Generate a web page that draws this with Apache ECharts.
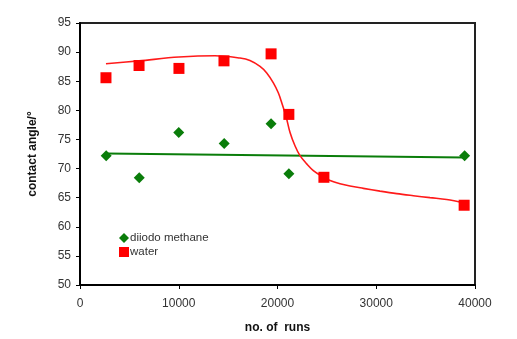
<!DOCTYPE html>
<html>
<head>
<meta charset="utf-8">
<script src="https://cdn.jsdelivr.net/npm/echarts@6/dist/echarts.min.js"></script>
<style>
html,body{margin:0;padding:0;background:#fff;}
#chart{width:517px;height:339px;}
</style>
</head>
<body>
<div id="chart"></div>
<script>
// Measured points
var diiodoRuns   = [2650, 6000, 10000, 14600, 19350, 21150, 38950];
var diiodoAngle  = [72.2, 68.4, 76.2, 74.3, 77.7, 69.1, 72.2];
var waterRuns    = [2630, 5980, 10020, 14580, 19350, 21150, 24700, 38900];
var waterAngle   = [85.6, 87.7, 87.2, 88.5, 89.7, 79.3, 68.5, 63.7];
// Trend line of diiodo methane
var diiodoTrendRuns  = [2650, 38950];
var diiodoTrendAngle = [72.6, 71.9];
// Fitted curve of water
var waterFitRuns  = [2630, 5980, 10020, 13670, 16200, 17210, 18230, 18910, 19580, 20080, 20430, 20860, 21270, 21770, 22280, 22960, 23630, 24480, 25320, 26330, 27340, 28690, 30380, 32070, 33750, 35440, 37130, 38890];
var waterFitAngle = [88.0, 88.5, 89.15, 89.38, 88.98, 88.57, 87.55, 86.43, 84.72, 83.02, 81.31, 78.98, 76.2, 73.92, 72.21, 70.8, 69.65, 68.7, 67.95, 67.39, 67.0, 66.6, 66.13, 65.7, 65.34, 65.0, 64.68, 64.1];
var xTicks = [0, 10000, 20000, 30000, 40000];
var yTicks = [50, 55, 60, 65, 70, 75, 80, 85, 90, 95];

function pairs(xs, ys){ return xs.map(function(x,i){ return [x, ys[i]]; }); }

var chart = echarts.init(document.getElementById('chart'), null, {renderer:'canvas'});
var font = 'Liberation Sans, Arial, sans-serif';
chart.setOption({
  animation: false,
  textStyle: {fontFamily: font},
  grid: {left: 80, right: 42, top: 23, bottom: 52, show: true, borderColor: '#222', borderWidth: 2, backgroundColor: 'transparent'},
  legend: {
    orient: 'vertical', left: 114, top: 227, itemGap: 2, itemWidth: 10, itemHeight: 10,
    textStyle: {fontFamily: font, fontSize: 11.5, color: '#333', padding: [0,0,0,-4]},
    data: [{name: 'diiodo methane', icon: 'diamond'}, {name: 'water', icon: 'rect'}]
  },
  xAxis: {
    type: 'value', min: xTicks[0], max: xTicks[xTicks.length-1], interval: 10000,
    name: 'no. of  runs', nameLocation: 'middle', nameGap: 37,
    nameTextStyle: {fontFamily: font, fontSize: 12, fontWeight: 'bold', color: '#111'},
    axisLine: {onZero: false, lineStyle: {color: '#000', width: 2}},
    axisTick: {show: true, inside: false, length: 4, lineStyle: {color: '#000'}},
    axisLabel: {fontFamily: font, fontSize: 12, color: '#333', margin: 13, formatter: function(v){ return String(v); }},
    splitLine: {show: false}
  },
  yAxis: {
    type: 'value', min: yTicks[0], max: yTicks[yTicks.length-1], interval: 5,
    name: 'contact angle/\u00B0', nameLocation: 'middle', nameGap: 41, nameRotate: 90,
    nameTextStyle: {fontFamily: font, fontSize: 12, fontWeight: 'bold', color: '#111'},
    axisLine: {onZero: false, lineStyle: {color: '#000', width: 2}},
    axisTick: {show: true, inside: false, length: 4, lineStyle: {color: '#000'}},
    axisLabel: {fontFamily: font, fontSize: 12, color: '#333', margin: 9},
    splitLine: {show: false}
  },
  series: [
    {
      name: 'diiodo trend', type: 'line', data: pairs(diiodoTrendRuns, diiodoTrendAngle),
      symbol: 'none', lineStyle: {color: '#0a7d0a', width: 2}, z: 1, silent: true
    },
    {
      name: 'water fit', type: 'line', data: pairs(waterFitRuns, waterFitAngle),
      symbol: 'none', smooth: 0.35, lineStyle: {color: '#ff1a1a', width: 1.6}, z: 1, silent: true
    },
    {
      name: 'diiodo methane', type: 'scatter', data: pairs(diiodoRuns, diiodoAngle),
      symbol: 'diamond', symbolSize: 11, itemStyle: {color: '#0a7d0a', opacity: 1}, z: 3
    },
    {
      name: 'water', type: 'scatter', data: pairs(waterRuns, waterAngle),
      symbol: 'rect', symbolSize: 11, itemStyle: {color: '#ff0000', opacity: 1}, z: 3
    }
  ]
});
</script>
</body>
</html>
